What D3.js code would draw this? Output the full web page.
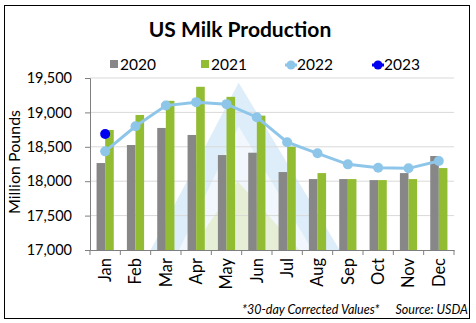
<!DOCTYPE html>
<html>
<head>
<meta charset="utf-8">
<script src="https://cdn.jsdelivr.net/npm/d3@7"></script>
<style>
  body { margin: 0; background: #fff; }
  svg text { font-family: Lato, "Liberation Sans", sans-serif; fill: #000; }
</style>
</head>
<body>
<div id="chart"></div>
<script>
const months = ["Jan","Feb","Mar","Apr","May","Jun","Jul","Aug","Sep","Oct","Nov","Dec"];
const prod2020 = [18264, 18526, 18774, 18672, 18380, 18414, 18133, 18031, 18031, 18016, 18118, 18366];
const prod2021 = [18745, 18963, 19168, 19372, 19226, 18953, 18501, 18118, 18031, 18016, 18031, 18191];
const prod2022 = [18434, 18799, 19099, 19149, 19120, 18930, 18566, 18405, 18245, 18195, 18187, 18293];
const prod2023 = [18687];
const yTicks = [17000, 17500, 18000, 18500, 19000, 19500];

const W = 476, H = 323;
const margin = { top: 78, right: 22, bottom: 73, left: 90 };
const width = W - margin.left - margin.right,
      height = H - margin.top - margin.bottom;

const svg = d3.select("#chart").append("svg")
    .attr("width", W).attr("height", H);

// outer frame
svg.append("rect")
    .attr("x", 4.5).attr("y", 5.5)
    .attr("width", 465).attr("height", 313)
    .attr("fill", "#fff").attr("stroke", "#000").attr("stroke-width", 1);

svg.append("text")
    .attr("x", 240).attr("y", 37)
    .attr("text-anchor", "middle")
    .style("font-size", "21px").style("font-weight", "bold")
    .text("US Milk Production");

const g = svg.append("g")
    .attr("transform", "translate(" + margin.left + "," + margin.top + ")");

const x = d3.scaleBand().domain(months).range([0, width]);
const y = d3.scaleLinear().domain([17000, 19500]).range([height, 0]);

// faint watermark triangles behind the bars
const wm = g.append("g");
wm.append("path")
    .attr("d", d3.line()([[x("Jun") - 3, y(19430)], [x("Mar"), y(17000)], [x("Sep") + 7, y(17000)]]))
    .attr("fill", "#ddedf9");
wm.append("path")
    .attr("d", d3.line()([[x("Jun") - 3, y(18800)], [x("Apr") - 2, y(17000)], [x("Aug") + 10, y(17000)]]))
    .attr("fill", "#f1f7fc");
wm.append("path")
    .attr("d", d3.line()([[x("Jun") - 4, y(18000)], [x("Apr") + 10, y(17000)], [x("Aug") - 3, y(17000)]]))
    .attr("fill", "#e6efd6");

// gridlines
g.append("g").selectAll("line")
    .data(yTicks.slice(1))
    .join("line")
    .attr("x1", 0).attr("x2", width)
    .attr("y1", d => y(d)).attr("y2", d => y(d))
    .attr("stroke", "#d9d9d9").attr("stroke-width", 1);

// y axis
const yAxis = g.append("g")
    .call(d3.axisLeft(y).tickValues(yTicks).tickFormat(d3.format(",")).tickSize(5).tickPadding(13));
yAxis.select(".domain").attr("stroke", "#7f7f7f");
yAxis.selectAll(".tick line").attr("stroke", "#7f7f7f");
yAxis.selectAll("text").style("font-size", "14.5px").style("font-family", "Lato, sans-serif").attr("fill", "#000");

// x axis with tick marks at band edges
const xAxis = g.append("g")
    .attr("transform", "translate(0," + height + ")")
    .call(d3.axisBottom(x).tickSize(0).tickPadding(0));
xAxis.select(".domain").attr("stroke", "#7f7f7f");
xAxis.selectAll("text")
    .attr("transform", "rotate(-90)")
    .attr("x", -8).attr("y", 0).attr("dy", "0.35em")
    .style("text-anchor", "end")
    .style("font-size", "16.5px").style("font-family", "Lato, sans-serif").attr("fill", "#000");
g.append("g").selectAll("line")
    .data(months.concat(["end"]))
    .join("line")
    .attr("x1", (d, i) => i * x.bandwidth()).attr("x2", (d, i) => i * x.bandwidth())
    .attr("y1", height).attr("y2", height + 5)
    .attr("stroke", "#7f7f7f");

svg.append("text")
    .attr("transform", "translate(20," + (margin.top + height / 2 - 2) + ") rotate(-90)")
    .attr("text-anchor", "middle")
    .style("font-size", "16px")
    .text("Million Pounds");

// bars
const barW = 8.6;
g.append("g").selectAll("rect")
    .data(prod2020)
    .join("rect")
    .attr("x", (d, i) => x(months[i]) + x.bandwidth() / 2 - barW)
    .attr("y", d => y(d))
    .attr("width", barW)
    .attr("height", d => height - y(d))
    .attr("fill", "#878787");
g.append("g").selectAll("rect")
    .data(prod2021)
    .join("rect")
    .attr("x", (d, i) => x(months[i]) + x.bandwidth() / 2)
    .attr("y", d => y(d))
    .attr("width", barW)
    .attr("height", d => height - y(d))
    .attr("fill", "#92bd32");

// 2022 line
const cx = i => x(months[i]) + x.bandwidth() / 2;
g.append("path")
    .datum(prod2022)
    .attr("fill", "none")
    .attr("stroke", "#8ec6ea")
    .attr("stroke-width", 3)
    .attr("d", d3.line().x((d, i) => cx(i)).y(d => y(d)));
g.append("g").selectAll("circle")
    .data(prod2022)
    .join("circle")
    .attr("cx", (d, i) => cx(i)).attr("cy", d => y(d))
    .attr("r", 5)
    .attr("fill", "#8ec6ea");

// 2023
g.append("g").selectAll("circle")
    .data(prod2023)
    .join("circle")
    .attr("cx", (d, i) => cx(i)).attr("cy", d => y(d))
    .attr("r", 5)
    .attr("fill", "#0000f0");

// legend
const legendY = 65;
const legend = svg.append("g");
[[110, "#878787", "2020"], [201, "#92bd32", "2021"]].forEach(d => {
    legend.append("rect").attr("x", d[0]).attr("y", legendY - 5).attr("width", 8).attr("height", 8).attr("fill", d[1]);
    legend.append("text").attr("x", d[0] + 10).attr("y", legendY + 5).style("font-size", "15.5px").text(d[2]);
});
[[285, "#8ec6ea", "2022"], [372, "#0000f0", "2023"]].forEach(d => {
    legend.append("line").attr("x1", d[0]).attr("x2", d[0] + 12).attr("y1", legendY).attr("y2", legendY)
        .attr("stroke", d[1]).attr("stroke-width", 3);
    legend.append("circle").attr("cx", d[0] + 6).attr("cy", legendY).attr("r", 4.5).attr("fill", d[1]);
    legend.append("text").attr("x", d[0] + 12).attr("y", legendY + 5).style("font-size", "15.5px").text(d[2]);
});

// footnotes
svg.append("text")
    .attr("x", 242).attr("y", 314)
    .style("font-size", "12.5px").style("font-style", "italic")
    .text("*30-day Corrected Values*");
svg.append("text")
    .attr("x", 468).attr("y", 314)
    .attr("text-anchor", "end")
    .style("font-size", "12.5px").style("font-style", "italic")
    .text("Source: USDA");
</script>
</body>
</html>
